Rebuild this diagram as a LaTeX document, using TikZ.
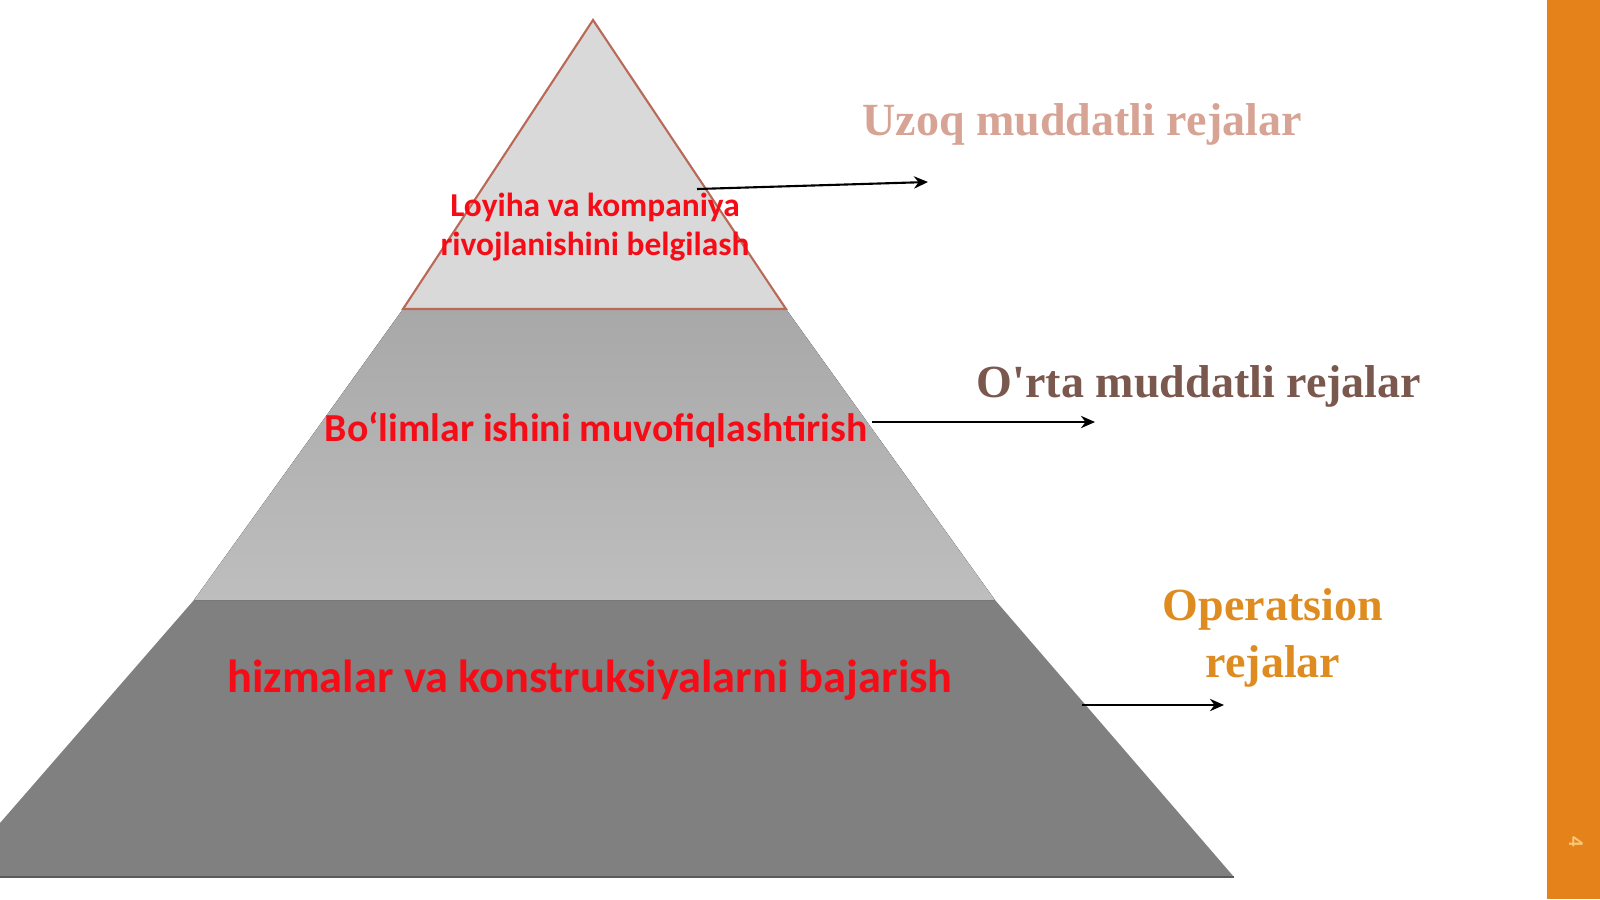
\documentclass[tikz,border=0pt]{standalone}
\usepackage{fontspec}
\usepackage{xcolor}
\usepackage{tikz}
\usetikzlibrary{arrows.meta,positioning}
\newfontfamily\planfont{Liberation Serif}[Ligatures=TeXOff]
\newfontfamily\tierfont{Carlito}
\definecolor{band}{RGB}{229,131,26}
\definecolor{tiertop}{RGB}{217,217,217}
\definecolor{midtop}{RGB}{168,168,168}
\definecolor{midbot}{RGB}{190,190,190}
\definecolor{tierlow}{RGB}{128,128,128}
\definecolor{edge}{RGB}{185,105,85}
\definecolor{tierred}{RGB}{245,12,22}
\definecolor{longplan}{RGB}{214,163,148}
\definecolor{midplan}{RGB}{122,88,78}
\definecolor{opplan}{RGB}{222,140,32}
\definecolor{pagenum}{RGB}{250,200,120}
\tikzset{
  tiertext/.style={text=tierred, inner sep=0pt, align=center},
  plan/.style={font=\planfont\bfseries\fontsize{13.1}{16}\selectfont, inner sep=0pt, align=center},
  plan arrow/.style={line width=0.6pt, -{Stealth[length=4pt,width=3.5pt]}}
}

\begin{document}
\begin{tikzpicture}[x=0.01cm,y=-0.01cm]
    \useasboundingbox (0,0) rectangle (1600,899);
    % side band
    \fill[band] (1547,0) rectangle (1600,899);
    \node[rotate=-90, text=pagenum, font=\tierfont\bfseries\fontsize{6}{6}\selectfont] (page-num) at (1576,842) {4};
    % pyramid
    \fill[tierlow] (194,600) -- (995,600) -- (1234,877) -- (0,877) -- (0,823) -- cycle;
    \draw[tierlow!70!black, line width=0.4pt] (0,877) -- (1234,877);
    \fill[top color=midtop, bottom color=midbot] (403,309) -- (786,309) -- (995,600) -- (194,600) -- cycle;
    \filldraw[fill=tiertop, draw=edge, line width=0.6pt] (593,20) -- (786,309) -- (403,309) -- cycle;
    % tier texts
    \node[tiertext, font=\tierfont\bfseries\fontsize{9.5}{11.1}\selectfont] (top-label) at (595,227) {Loyiha va kompaniya\\rivojlanishini belgilash};
    \node[tiertext, font=\tierfont\bfseries\fontsize{11.3}{13}\selectfont] (mid-label) at (596,430) {Bo‘limlar ishini muvofiqlashtirish};
    \node[tiertext, font=\tierfont\bfseries\fontsize{13.2}{15}\selectfont] (low-label) at (590,680) {hizmalar va konstruksiyalarni bajarish};
    % plan names
    \node[plan, text=longplan] (long-plan) at (1082,124) {Uzoq muddatli rejalar};
    \node[plan, text=midplan] (mid-plan) at (1199,386) {O'rta muddatli rejalar};
    \node[plan, text=opplan] (op-plan) at (1273,638) {Operatsion\\rejalar};
    % arrows
    \coordinate (long-from) at (697,189);
    \coordinate (long-to) at (928,182);
    \coordinate (mid-from) at (872,422);
    \coordinate (mid-to) at (1095,422);
    \coordinate (op-from) at (1082,705);
    \coordinate (op-to) at (1224,705);
    \draw[plan arrow] (long-from) -- (long-to);
    \draw[plan arrow] (mid-from) -- (mid-to);
    \draw[plan arrow] (op-from) -- (op-to);
\end{tikzpicture}
\end{document}
